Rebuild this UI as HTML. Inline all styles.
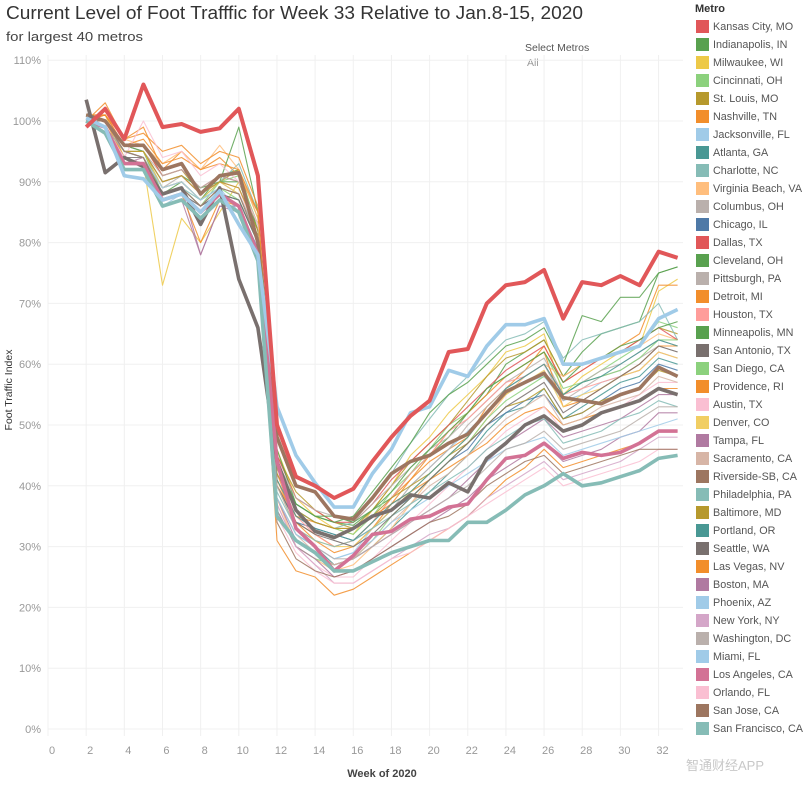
<!DOCTYPE html>
<html><head><meta charset="utf-8"><style>
body{margin:0;background:#fff;font-family:"Liberation Sans","Noto Sans CJK SC",sans-serif;}
#wrap{position:relative;width:804px;height:785px;overflow:hidden;}
svg text{font-family:"Liberation Sans","Noto Sans CJK SC",sans-serif;}
</style></head><body>
<div id="wrap">
<svg id="chart" width="804" height="785">
<text x="6" y="19" font-size="18" fill="#333" textLength="577" lengthAdjust="spacingAndGlyphs">Current Level of Foot Trafffic for Week 33 Relative to Jan.8-15, 2020</text>
<text x="6" y="41" font-size="13" fill="#444" textLength="137" lengthAdjust="spacingAndGlyphs">for largest 40 metros</text>
<text x="525" y="51" font-size="10.5" fill="#555">Select Metros</text>
<text x="527" y="66" font-size="10.5" fill="#999">All</text>
<text transform="translate(12,390) rotate(-90)" text-anchor="middle" font-size="10.5" fill="#333">Foot Traffic Index</text>
<text x="382" y="777" text-anchor="middle" font-size="11" font-weight="bold" fill="#444">Week of 2020</text>
<text x="695" y="12" font-size="11" font-weight="bold" fill="#333">Metro</text>
<text x="686" y="770" font-size="13" fill="#c8c8c8">智通财经APP</text>
<g id="grid"></g><g id="axes"></g><g id="lines"></g><g id="legend"></g>
</svg>
</div>
<script>
const weeks=[2,3,4,5,6,7,8,9,10,11,12,13,14,15,16,17,18,19,20,21,22,23,24,25,26,27,28,29,30,31,32,33];
const xTicks=[0,2,4,6,8,10,12,14,16,18,20,22,24,26,28,30,32];
const yTicks=[0,10,20,30,40,50,60,70,80,90,100,110];
const metros=["Kansas City, MO","Indianapolis, IN","Milwaukee, WI","Cincinnati, OH","St. Louis, MO","Nashville, TN","Jacksonville, FL","Atlanta, GA","Charlotte, NC","Virginia Beach, VA","Columbus, OH","Chicago, IL","Dallas, TX","Cleveland, OH","Pittsburgh, PA","Detroit, MI","Houston, TX","Minneapolis, MN","San Antonio, TX","San Diego, CA","Providence, RI","Austin, TX","Denver, CO","Tampa, FL","Sacramento, CA","Riverside-SB, CA","Philadelphia, PA","Baltimore, MD","Portland, OR","Seattle, WA","Las Vegas, NV","Boston, MA","Phoenix, AZ","New York, NY","Washington, DC","Miami, FL","Los Angeles, CA","Orlando, FL","San Jose, CA","San Francisco, CA"];
const colors=["#e15759","#59a14f","#edc948","#8cd17d","#b6992d","#f28e2b","#a0cbe8","#499894","#86bcb6","#ffbe7d","#bab0ac","#4e79a7","#e15759","#59a14f","#bab0ac","#f28e2b","#ff9d9a","#59a14f","#79706e","#8cd17d","#f28e2b","#fabfd2","#f1ce63","#b07aa1","#d7b5a6","#9d7660","#86bcb6","#b6992d","#499894","#79706e","#f28e2b","#b07aa1","#a0cbe8","#d4a6c8","#bab0ac","#a0cbe8","#d37295","#fabfd2","#9d7660","#86bcb6"];
const sKansasCity=[99,102,97,106,99,99.5,98.2,98.8,102,91,50,41.5,40,38,39.5,44,48,51.5,54,62,62.5,70,73,73.5,75.5,67.5,73.5,73,74.5,73,78.5,77.5];
const sIndianapolis=[101,100,95,95,88,90,87,91,92,82,44,37,35,34,33.5,36,38,42,45,48,52,55,60,62,64,58,62,65,66,67,75,76];
const sMilwaukee=[100,101,94,93,73,84,80,85,90,82,46,38,35,33,32,36,40,45,48,52,55,58,62,63,65,55,58,60,62,63,72,74];
const sCincinnati=[101,100,96,95,88,89,86,90,91,83,42,36,34,33,32,35,39,42,46,50,52,56,58,60,62,56,57,59,61,63,67,66];
const sStLouis=[101,100,96,96,91,92,88,90,92,84,45,39,36,34,33,36,40,44,47,50,54,58,61,62,64,58,60,61,62,64,66,65];
const sNashville=[100,103,97,99,92,95,92,94,91,85,41,34,32,30,31,34,38,41,44,46,48,53,56,59,63,57,59,61,63,65,73,73];
const sJacksonville=[100,99,94,93,86,88,86,89,85,78,40,33,30,28,29,33,36,40,43,46,49,52,55,57,58,54,55,57,58,59,62,61];
const sAtlanta=[100,99,95,94,87,88,85,88,87,80,38,32,30,27,28,30,33,36,39,42,45,49,52,53,56,51,53,55,57,58,61,60];
const sCharlotte=[101,100,96,95,90,91,88,90,93,85,43,36,34,33,34,38,42,47,51,55,58,61,64,65,67,61,64,65,66,67,70,64];
const sVirginiaBeach=[101,101,97,96,93,95,92,96,92,84,38,30,28,26,27,30,33,37,41,44,47,51,55,58,60,58,60,61,62,63,65,64];
const sColumbus=[100,100,95,94,89,91,88,90,88,81,42,35,33,31,30,33,36,40,43,46,50,53,56,58,60,54,56,58,59,61,63,62];
const sChicago=[100,99,94,93,86,87,85,88,86,79,40,34,33,32,31,33,36,38,41,44,46,50,52,54,55,51,52,54,56,57,60,59];
const sDallas=[100,101,96,96,91,92,89,91,90,83,45,38,36,34,34,37,41,44,47,50,53,56,59,61,63,57,59,61,62,64,66,64];
const sCleveland=[101,100,95,95,90,91,89,90,99,85,46,37,35,34,35,39,43,47,52,55,57,60,63,64,66,60,68,67,71,71,75,76];
const sPittsburgh=[100,100,96,95,91,92,89,91,90,83,44,38,36,35,34,37,40,43,46,48,51,54,57,59,61,55,57,59,60,62,64,63];
const sDetroit=[100,101,96,97,93,94,92,93,92,85,42,34,31,29,30,33,37,41,45,49,52,55,58,60,62,53,54,56,58,60,63,63];
const sHouston=[100,100,95,95,90,91,88,90,89,81,42,35,32,30,31,34,38,42,45,49,51,54,57,58,60,55,56,57,58,59,62,61];
const sMinneapolis=[101,100,96,95,89,90,87,90,90,82,43,37,35,35,34,36,39,43,46,49,52,56,58,60,62,57,60,61,63,64,66,67];
const sSanAntonio=[103.5,91.5,94,92.5,88,89,83,89,74,66,44,36,32.5,31.5,33,35,36,38.5,38,40.5,39,44.5,47,50,51.5,49,50,52,53,54,56,55];
const sSanDiego=[100,99,94,93,88,89,86,89,87,80,36,30,28,27,28,31,35,38,41,44,47,51,54,56,58,55,57,58,59,61,64,64];
const sProvidence=[101,101,97,98,95,96,93,95,94,86,40,35,34,33,33,35,37,39,41,43,45,47,50,52,53,50,51,52,53,54,56,56];
const sAustin=[100,99,94,100,94,95,91,93,90,83,37,30,27,25,25,28,31,34,37,40,43,46,49,51,53,49,50,52,53,55,57,57];
const sDenver=[100,100,95,95,89,90,87,90,88,81,40,33,31,30,30,33,36,39,42,45,48,52,55,57,59,53,55,56,58,59,62,61];
const sTampa=[100,99,93,94,88,89,78,86,86,79,38,31,29,27,28,30,32,34,36,38,41,44,47,49,51,48,49,50,51,53,55,55];
const sSacramento=[100,100,95,94,89,90,87,89,88,81,38,32,29,27,28,31,34,37,40,42,45,48,51,53,55,50,51,53,54,55,58,57];
const sRiverside=[101,100,96,96,92,93,88,91,91.5,80,48,40,39,35,34.5,38,42,44,45,47,48.5,52,55.5,57,58.5,54.5,54,53.5,55,56,59.5,58];
const sPhiladelphia=[100,99,95,94,88,89,87,89,88,81,39,33,31,30,31,33,35,37,39,41,43,46,48,50,51,47,48,49,51,52,54,53];
const sBaltimore=[100,100,95,95,90,91,88,90,89,82,42,36,34,33,33,35,38,40,42,45,47,50,53,54,56,51,52,54,55,56,59,58];
const sPortland=[100,99,95,94,88,89,86,88,87,80,41,35,33,32,31,34,37,39,42,45,48,52,56,58,60,55,57,58,60,62,64,63];
const sSeattle=[100,99,94,94,87,88,86,88,87,80,40,34,32,31,30,32,35,38,41,44,47,50,53,55,57,52,54,56,58,60,63,62];
const sLasVegas=[100,100,94,93,87,88,80,87,86,78,31,26,25,22,23,25,27,29,31,33,35,38,41,43,46,43,44,45,46,47,49,49];
const sBoston=[100,99,94,93,86,87,78,86,85,78,36,30,28,25,26,28,30,32,34,36,38,41,43,45,47,44,45,46,48,49,52,52];
const sPhoenix=[100,100,95,94,89,90,87,89,88,81,38,32,30,28,29,31,34,36,38,40,42,44,46,47,48,45,46,47,48,49,50,51];
const sNewYork=[100,99,94,93,87,88,85,88,86,78,37,30,27,24,24,26,28,30,32,33,35,38,40,42,44,41,42,43,44,46,48,48];
const sWashington=[100,99,95,94,88,89,86,89,88,81,40,33,30,28,28,30,32,34,36,38,40,43,46,47,49,46,47,48,49,51,53,53];
const sMiami=[100.5,99,91,90.5,87,88,85,88.5,83,78,53,45,40.5,36.5,36.5,42,46,52,53,59,58,63,66.5,66.5,67.5,60,60,61,62,63,67.5,69];
const sLosAngeles=[100,99,93,93,87,88,85,88,86,78,44,33,30,26,28.5,32,32.5,34.5,35,36.5,37,41,44.5,45,47,44.5,45.5,45,45.5,47,49,49];
const sOrlando=[100,99,94,93,87,88,85,88,86,78,35,29,26,24,24,26,28,29,31,33,35,37,39,41,43,40,41,42,43,44,46,46];
const sSanJose=[100,100,95,94,88,89,86,89,88,80,34,28,26,25,26,28,30,32,34,35,37,40,42,44,45,42,43,44,45,46,46,46];
const sSanFrancisco=[100,98,92,92,86,87,84,87,85,77,35,31,29,26,26,27.5,29,30,31,31,34,34,36,38.5,40,42,40,40.5,41.5,42.5,44.5,45];
const seriesList=[sKansasCity,sIndianapolis,sMilwaukee,sCincinnati,sStLouis,sNashville,sJacksonville,sAtlanta,sCharlotte,sVirginiaBeach,sColumbus,sChicago,sDallas,sCleveland,sPittsburgh,sDetroit,sHouston,sMinneapolis,sSanAntonio,sSanDiego,sProvidence,sAustin,sDenver,sTampa,sSacramento,sRiverside,sPhiladelphia,sBaltimore,sPortland,sSeattle,sLasVegas,sBoston,sPhoenix,sNewYork,sWashington,sMiami,sLosAngeles,sOrlando,sSanJose,sSanFrancisco];
const thick=["Riverside-SB, CA","San Antonio, TX","Los Angeles, CA","San Francisco, CA","Miami, FL","Kansas City, MO"];

const NS="http://www.w3.org/2000/svg";
const X0=48,XW=19.08,Y0=729,YH=6.08;
function xs(w){return X0+w*XW;}
function ys(v){return Y0-v*YH;}
function mk(tag,attrs,parent){const e=document.createElementNS(NS,tag);for(const k in attrs)e.setAttribute(k,attrs[k]);parent.appendChild(e);return e;}
const grid=document.getElementById('grid'),axes=document.getElementById('axes'),lines=document.getElementById('lines'),legend=document.getElementById('legend');
xTicks.forEach(t=>{
  const l=mk('line',{x1:xs(t),x2:xs(t),y1:55,y2:736,stroke:'#f0f0f0','stroke-width':1},grid);
  
  
  const tx=mk('text',{x:xs(t)+4,y:754,'text-anchor':'middle','font-size':11,fill:'#999'},axes);
  tx.textContent=t;
  
  
});
yTicks.forEach(t=>{
  const l=mk('line',{x1:X0,x2:683,y1:ys(t),y2:ys(t),stroke:'#f0f0f0','stroke-width':1},grid);
  
  
  const tx=mk('text',{x:41,y:ys(t)+4,'text-anchor':'end','font-size':11,fill:'#999'},axes);
  tx.textContent=t+'%';
  
  
});
function drawLine(i,w){
  const d=seriesList[i].map((v,j)=>(j?'L':'M')+xs(weeks[j]).toFixed(1)+','+ys(v).toFixed(1)).join('');
  const p=mk('path',{d:d,fill:'none',stroke:colors[i],'stroke-width':w,'stroke-linejoin':'round',opacity:w>2?1:0.85},lines);
  
  
}
metros.forEach((m,i)=>{if(thick.indexOf(m)<0)drawLine(i,1.1);});
thick.forEach(m=>{const i=metros.indexOf(m);drawLine(i,m==="Kansas City, MO"?4:3.6);});
metros.forEach((m,i)=>{
  const y=26+i*18;
  const g=mk('g',{},legend);
  
  
  mk('rect',{x:696,y:y-6,width:13,height:13,fill:colors[i]},g);
  const t=mk('text',{x:713,y:y+4,'font-size':10.8,fill:'#555'},g);
  t.textContent=m;
});
</script>
</body></html>
